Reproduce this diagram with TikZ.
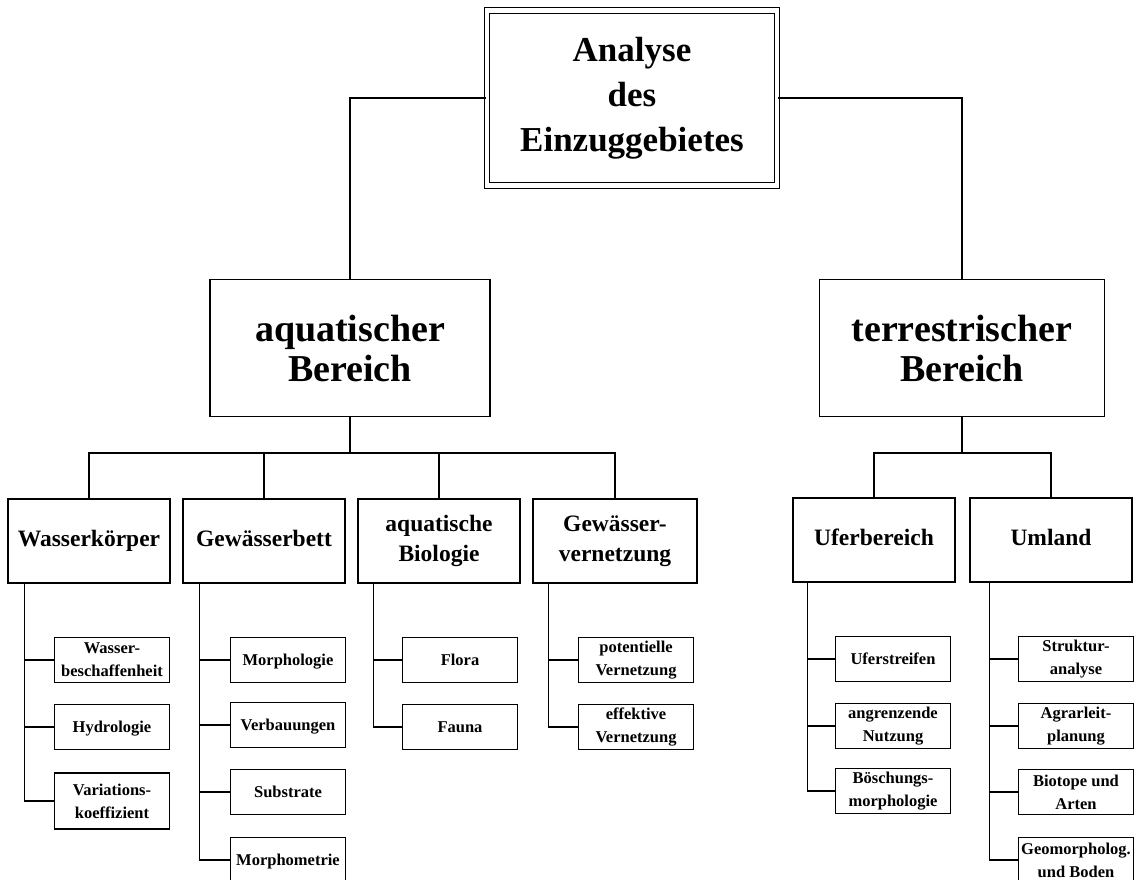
\documentclass[tikz,border=0pt]{standalone}
\usepackage{fontspec}
\setmainfont{Liberation Serif}
\begin{document}
\begin{tikzpicture}[x=1pt, y=-1pt, line width=1.4pt,
        box/.style={draw, align=center, inner sep=2pt},
        oneline/.style={text height=1.2em, text depth=0.2em},
        topbox/.style={box, double, double distance=4.5pt, line width=1.2pt, minimum width=290pt, minimum height=175pt, font=\bfseries\fontsize{35}{45}\selectfont},
        mainbox/.style={box, minimum height=137pt, font=\bfseries\fontsize{38}{40}\selectfont},
        areabox/.style={box, minimum width=162pt, minimum height=84pt, font=\bfseries\fontsize{23.5}{30}\selectfont},
        subbox/.style={box, minimum width=115pt, minimum height=45pt, font=\bfseries\fontsize{16.5}{23}\selectfont}]
    \useasboundingbox (0,0) rectangle (1146,880);
    % top and main areas
    \node[topbox] (top) at (632,98) {Analyse\\des\\Einzuggebietes};
    \node[mainbox, minimum width=280pt] (aqua) at (350,348) {aquatischer\\Bereich};
    \node[mainbox, minimum width=285pt] (terr) at (962,348) {terrestrischer\\Bereich};
    \draw (top.west) -| (aqua.north);
    \draw (top.east) -| (terr.north);
    % second level
    \node[areabox, oneline] (wk) at (89,541) {Wasserkörper};
    \node[areabox, oneline] (gb) at (264,541) {Gewässerbett};
    \node[areabox] (ab) at (439,541) {aquatische\\Biologie};
    \node[areabox, minimum width=164pt] (gv) at (615,541) {Gewässer-\\vernetzung};
    \node[areabox, oneline] (ub) at (874,540) {Uferbereich};
    \node[areabox, oneline] (ul) at (1051,540) {Umland};
    \coordinate (abar) at (350,453);
    \coordinate (tbar) at (962,453);
    \draw (aqua.south) -- (abar);
    \draw (wk.north) |- (abar -| gv.north) -- (gv.north);
    \foreach \c in {gb,ab}
        \draw (\c.north) -- (\c.north |- abar);
    \draw (terr.south) -- (tbar);
    \draw (ub.north) |- (tbar -| ul.north) -- (ul.north);
    % Wasserkoerper
    \node[subbox] (w1) at (112,660) {Wasser-\\beschaffenheit};
    \node[subbox, oneline] (w2) at (112,727) {Hydrologie};
    \node[subbox, minimum height=56pt] (w3) at (112,801) {Variations-\\koeffizient};
    % Gewaesserbett
    \node[subbox, oneline] (g1) at (288,660) {Morphologie};
    \node[subbox, oneline] (g2) at (288,725) {Verbauungen};
    \node[subbox, oneline] (g3) at (288,792) {Substrate};
    \node[subbox, oneline] (g4) at (288,860) {Morphometrie};
    % aquatische Biologie
    \node[subbox, oneline] (b1) at (460,660) {Flora};
    \node[subbox, oneline] (b2) at (460,727) {Fauna};
    % Gewaesservernetzung
    \node[subbox] (v1) at (636,660) {potentielle\\Vernetzung};
    \node[subbox] (v2) at (636,727) {effektive\\Vernetzung};
    % Uferbereich
    \node[subbox, oneline] (u1) at (893,659) {Uferstreifen};
    \node[subbox] (u2) at (893,726) {angrenzende\\Nutzung};
    \node[subbox] (u3) at (893,791) {Böschungs-\\morphologie};
    % Umland
    \node[subbox] (m1) at (1076,659) {Struktur-\\analyse};
    \node[subbox] (m2) at (1076,726) {Agrarleit-\\planung};
    \node[subbox] (m3) at (1076,792) {Biotope und\\Arten};
    \node[subbox] (m4) at (1076,860) {Geomorpholog.\\und Boden};
    % trunks
    \foreach \p/\s/\last/\kids in {wk/17/w3/{w1,w2}, gb/17/g4/{g1,g2,g3}, ab/16/b2/{b1}, gv/16/v2/{v1}, ub/15/u3/{u1,u2}, ul/20/m4/{m1,m2,m3}} {
        \coordinate (\p T) at ([xshift=\s pt]\p.south west);
        \draw (\p T) |- (\last.west);
        \foreach \c in \kids
            \draw (\c.west) -- (\c.west -| \p T);
    }
\end{tikzpicture}
\end{document}
